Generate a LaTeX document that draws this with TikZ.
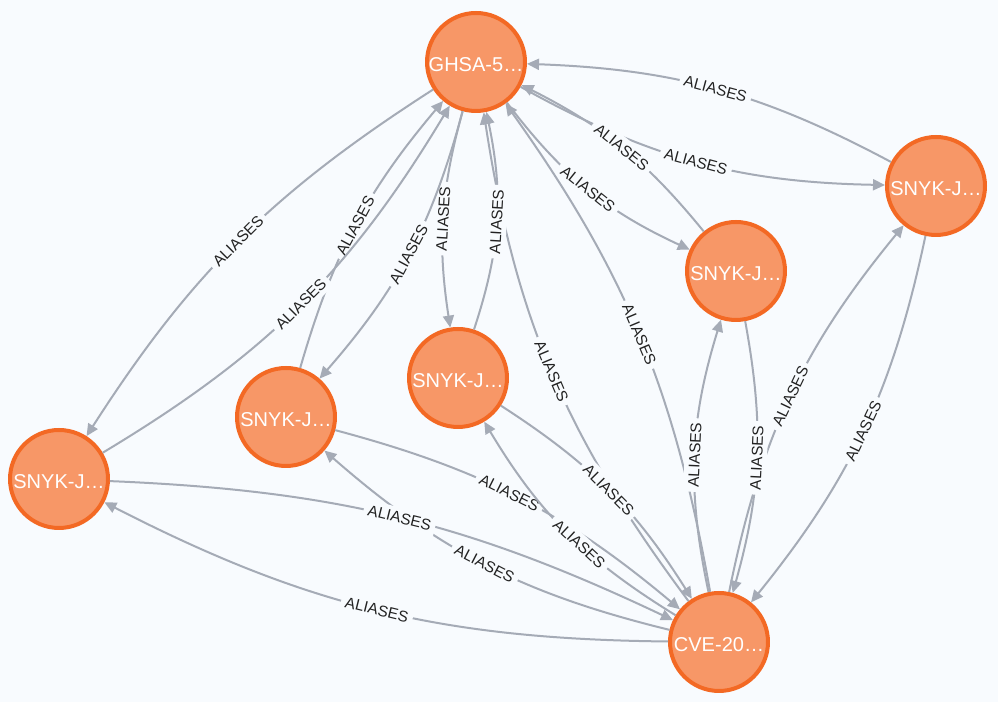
\documentclass[tikz,border=0pt]{standalone}
\usepackage{fontspec}
\setmainfont{Liberation Sans}
\usetikzlibrary{arrows.meta}
\definecolor{bgcol}{HTML}{F8FBFE}
\definecolor{nodefill}{HTML}{F79767}
\definecolor{nodeline}{HTML}{F36924}
\definecolor{edgecol}{HTML}{A5ABB6}
\definecolor{labelcol}{HTML}{222222}
\tikzset{
x=0.02cm, y=0.02cm, % one unit is one pixel of the screenshot
>={Triangle[length=0.24cm,width=0.22cm]}, % filled triangle heads
vuln/.style={circle, draw=nodeline, fill=nodefill, line width=0.08cm, minimum size=1.96cm, inner sep=0pt, text=white, text height=0.39cm, font=\fontsize{11.4}{12}\selectfont}, % the orange circles
link/.style={->, draw=edgecol, line width=0.04cm}, % the relationship lines
alias/.style={sloped, fill=bgcol, inner sep=2.6pt, text=labelcol, font=\fontsize{8.8}{9}\selectfont}, % the ALIASES labels
}
\begin{document}
\begin{tikzpicture}
\fill[bgcol] (0,0) rectangle (998,702);
\useasboundingbox (0,0) rectangle (998,702);

\node[vuln] (ghsa) at (476,640) {\makebox[0pt]{GHSA-5…}};
\node[vuln] (snyk1) at (936,516) {\makebox[0pt]{SNYK-J…}};
\node[vuln] (snyk2) at (736,431) {\makebox[0pt]{SNYK-J…}};
\node[vuln] (snyk3) at (458,324) {\makebox[0pt]{SNYK-J…}};
\node[vuln] (snyk4) at (286,285) {\makebox[0pt]{SNYK-J…}};
\node[vuln] (snyk5) at (59,223) {\makebox[0pt]{SNYK-J…}};
\node[vuln] (cve) at (719,60) {\makebox[0pt]{CVE-20…}};

% edges into and out of GHSA
\draw[link] (snyk1) to[bend right=13] node[alias] {ALIASES} (ghsa);
\draw[link] (ghsa) to[bend right=14] node[alias] {ALIASES} (snyk1);
\draw[link] (snyk2) to[bend right=12] node[alias] {ALIASES} (ghsa);
\draw[link] (ghsa) to[bend right=14] node[alias] {ALIASES} (snyk2);
\draw[link] (cve) to[bend right=12.7] node[alias] {ALIASES} (ghsa);
\draw[link] (cve) to[bend left=14] node[alias] {ALIASES} (ghsa);
\draw[link] (ghsa) to[bend right=12] node[alias] {ALIASES} (snyk3);
\draw[link] (snyk3) to[bend right=15] node[alias] {ALIASES} (ghsa);
\draw[link] (ghsa) to[bend left=13] node[alias] {ALIASES} (snyk4);
\draw[link] (snyk4) to[bend left=12] node[alias] {ALIASES} (ghsa);
\draw[link] (ghsa) to[bend right=12.3] node[alias] {ALIASES} (snyk5);
\draw[link] (snyk5) to[bend right=14] node[alias] {ALIASES} (ghsa);

% edges into and out of CVE
\draw[link] (snyk1) to[bend left=13.5] node[alias] {ALIASES} (cve);
\draw[link] (cve) to[bend left=14] node[alias] {ALIASES} (snyk1);
\draw[link] (snyk2) to[bend left=13] node[alias] {ALIASES} (cve);
\draw[link] (cve) to[bend left=14.5] node[alias] {ALIASES} (snyk2);
\draw[link] (snyk3) to[bend left=12.5] node[alias] {ALIASES} (cve);
\draw[link] (snyk4) to[bend left=12.5] node[alias, pos=0.47] {ALIASES} (cve);
\draw[link] (cve) to[bend left=13.7] node[alias, pos=0.43] {ALIASES} (snyk3);
\draw[link] (cve) to[bend left=13.7] node[alias] {ALIASES} (snyk4);
\draw[link] (snyk5) to[bend left=11.5] node[alias] {ALIASES} (cve);
\draw[link] (cve) to[bend left=13.3] node[alias] {ALIASES} (snyk5);
\end{tikzpicture}
\end{document}
